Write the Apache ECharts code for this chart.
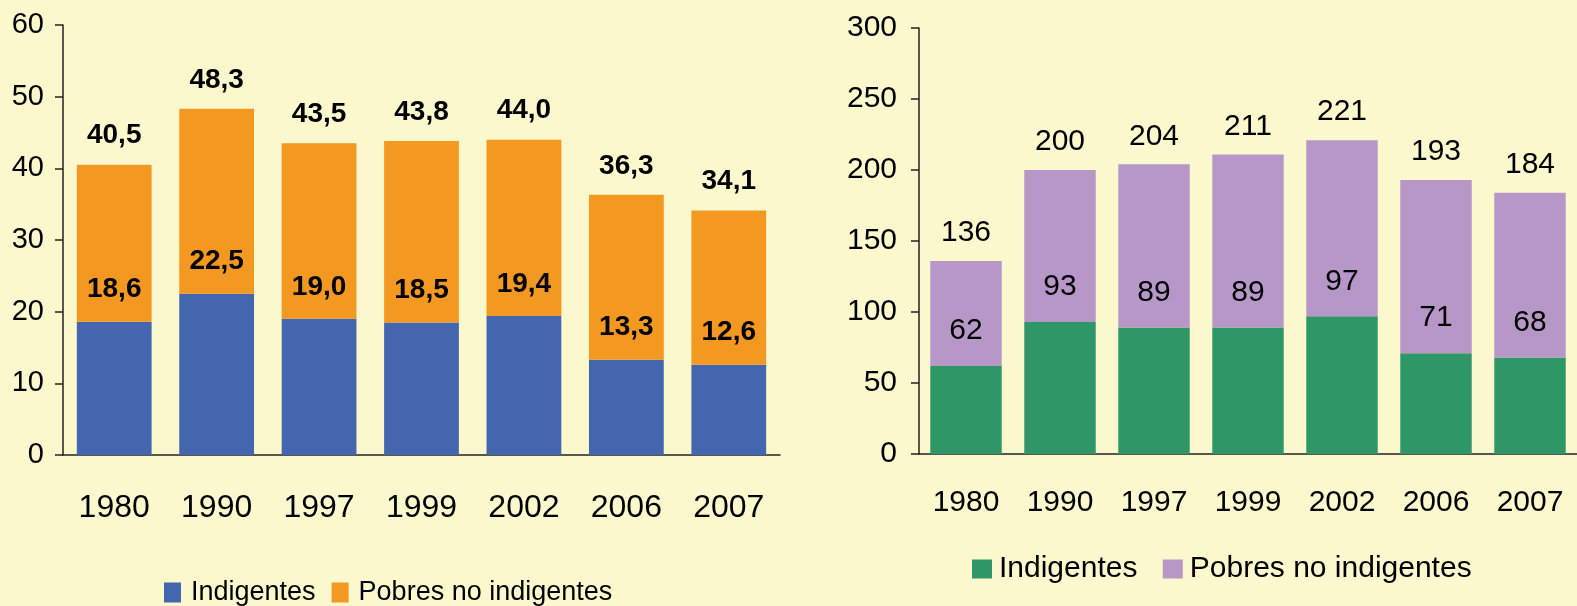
<!DOCTYPE html>
<html>
<head>
<meta charset="utf-8">
<script src="https://cdn.jsdelivr.net/npm/echarts@6/dist/echarts.min.js"></script>
<style>
  html, body { margin: 0; padding: 0; background: #FBF8CE; }
  #chart { width: 1577px; height: 606px; }
</style>
</head>
<body>
<div id="chart"></div>
<script>
// años
const years = ['1980', '1990', '1997', '1999', '2002', '2006', '2007'];

// gráfico izquierdo (porcentajes)
const pctIndigentes = [18.6, 22.5, 19.0, 18.5, 19.4, 13.3, 12.6];
const pctTotal = [40.5, 48.3, 43.5, 43.8, 44.0, 36.3, 34.1];

// gráfico derecho (millones de personas)
const milIndigentes = [62, 93, 89, 89, 97, 71, 68];
const milTotal = [136, 200, 204, 211, 221, 193, 184];

const leftTicks = { min: 0, max: 60, interval: 10 };
const rightTicks = { min: 0, max: 300, interval: 50 };

// pobres no indigentes = total - indigentes (para apilar)
const pctPobres = pctTotal.map((t, i) => +(t - pctIndigentes[i]).toFixed(1));
const milPobres = milTotal.map((t, i) => t - milIndigentes[i]);

const coma = v => v.toFixed(1).replace('.', ',');
const FONT = '"Liberation Sans", Arial, sans-serif';
const axisColor = '#222';

function xAxisFor(gridIndex, size, margin) {
  return {
    type: 'category',
    gridIndex: gridIndex,
    data: years,
    axisLine: { lineStyle: { color: axisColor, width: 1.5 } },
    axisTick: { length: 11, lineStyle: { color: axisColor, width: 1.5 } },
    axisLabel: { color: '#000', fontSize: size, fontFamily: FONT, margin: margin }
  };
}
function yAxisFor(gridIndex, ticks, size, margin) {
  return {
    type: 'value',
    gridIndex: gridIndex,
    min: ticks.min, max: ticks.max, interval: ticks.interval,
    splitLine: { show: false },
    axisLine: { show: true, lineStyle: { color: axisColor, width: 1.5 } },
    axisTick: { show: true, length: 8, lineStyle: { color: axisColor, width: 1.5 } },
    axisLabel: { color: '#000', fontSize: size, fontFamily: FONT, margin: margin }
  };
}

const chart = echarts.init(document.getElementById('chart'));
chart.setOption({
  backgroundColor: '#FBF8CE',
  animation: false,
  grid: [
    { left: 63, top: 25, right: 1577 - 780, bottom: 151 },
    { left: 919, top: 28, right: -7, bottom: 152 }
  ],
  xAxis: [xAxisFor(0, 32, 37), xAxisFor(1, 30, 34)],
  yAxis: [yAxisFor(0, leftTicks, 29, 19), yAxisFor(1, rightTicks, 30, 22)],
  legend: [
    {
      left: 159, top: 574,
      itemWidth: 17, itemHeight: 20, itemGap: 16,
      icon: 'rect',
      textStyle: { fontSize: 27, fontFamily: FONT, color: '#000', padding: [0, 0, 0, 5] },
      data: [
        { name: 'Indigentes', itemStyle: { color: '#4466AE' } },
        { name: 'Pobres no indigentes', itemStyle: { color: '#F39820' } }
      ]
    },
    {
      left: 967, top: 549,
      itemWidth: 20, itemHeight: 19, itemGap: 17,
      icon: 'rect',
      textStyle: { fontSize: 30, fontFamily: FONT, color: '#000', padding: [0, 0, 0, 2] },
      data: [
        { name: 'Indigentes ', itemStyle: { color: '#2E9667' } },
        { name: 'Pobres no indigentes ', itemStyle: { color: '#B797C7' } }
      ]
    }
  ],
  series: [
    {
      name: 'Indigentes', type: 'bar', stack: 'a',
      xAxisIndex: 0, yAxisIndex: 0,
      barCategoryGap: '27%',
      itemStyle: { color: '#4466AE' },
      label: {
        show: true, position: 'top', distance: 18,
        fontSize: 28, fontWeight: 'bold', fontFamily: FONT, color: '#000',
        formatter: p => coma(p.value)
      },
      data: pctIndigentes
    },
    {
      name: 'Pobres no indigentes', type: 'bar', stack: 'a',
      xAxisIndex: 0, yAxisIndex: 0,
      barCategoryGap: '27%',
      itemStyle: { color: '#F39820' },
      label: {
        show: true, position: 'top', distance: 15,
        fontSize: 28, fontWeight: 'bold', fontFamily: FONT, color: '#000',
        formatter: p => coma(pctTotal[p.dataIndex])
      },
      data: pctPobres
    },
    {
      name: 'Indigentes ', type: 'bar', stack: 'b',
      xAxisIndex: 1, yAxisIndex: 1,
      barCategoryGap: '24%',
      itemStyle: { color: '#2E9667' },
      label: {
        show: true, position: 'top', distance: 20,
        fontSize: 30, fontFamily: FONT, color: '#000'
      },
      data: milIndigentes
    },
    {
      name: 'Pobres no indigentes ', type: 'bar', stack: 'b',
      xAxisIndex: 1, yAxisIndex: 1,
      barCategoryGap: '24%',
      itemStyle: { color: '#B797C7' },
      label: {
        show: true, position: 'top', distance: 13,
        fontSize: 30, fontFamily: FONT, color: '#000',
        formatter: p => String(milTotal[p.dataIndex])
      },
      data: milPobres
    }
  ]
});
</script>
</body>
</html>
